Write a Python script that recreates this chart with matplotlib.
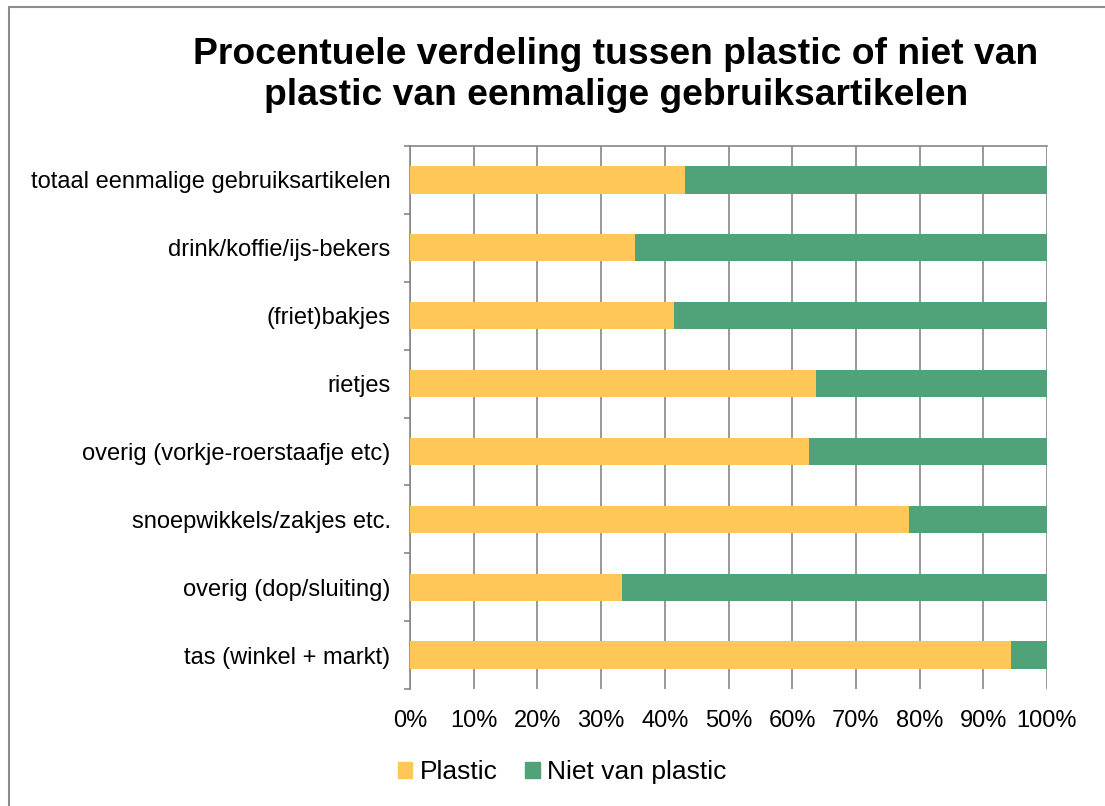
import numpy as np
import matplotlib
matplotlib.use("Agg")
import matplotlib.pyplot as plt
from matplotlib.patches import Patch, Rectangle
from matplotlib.ticker import FuncFormatter

plt.rcParams["font.family"] = ["Liberation Sans", "DejaVu Sans"]

# Data (top to bottom as shown in the chart)
categories = [
    "totaal eenmalige gebruiksartikelen",
    "drink/koffie/ijs-bekers",
    "(friet)bakjes",
    "rietjes",
    "overig (vorkje-roerstaafje etc)",
    "snoepwikkels/zakjes etc.",
    "overig (dop/sluiting)",
    "tas (winkel + markt)",
]
plastic = [43.2, 35.3, 41.4, 63.7, 62.6, 78.3, 33.3, 94.3]
niet_plastic = [56.8, 64.7, 58.6, 36.3, 37.4, 21.7, 66.7, 5.7]

yellow = "#FFC658"
green = "#50A278"
grey = "#868686"

fig = plt.figure(figsize=(11.05, 8.06), dpi=100)
ax = fig.add_axes([410 / 1105, 1 - 689 / 806, 637 / 1105, 543 / 806])

y = np.arange(len(categories))
ax.barh(y, plastic, height=0.4, color=yellow, label="Plastic", zorder=3)
ax.barh(y, niet_plastic, left=plastic, height=0.4, color=green,
        label="Niet van plastic", zorder=3)

ax.set_xlim(0, 100)
ax.set_ylim(len(categories) - 0.5, -0.5)

# x axis: percentage labels, vertical gridlines
ax.set_xticks(np.arange(0, 101, 10))
ax.xaxis.set_major_formatter(FuncFormatter(lambda v, p: f"{int(v)}%"))
ax.tick_params(axis="x", length=0, pad=15, labelsize=17)
ax.grid(axis="x", color=grey, linewidth=1.2, zorder=0)

# y axis: labels at bar centres, tick marks between categories
ax.set_yticks(y)
ax.set_yticklabels(categories)
ax.tick_params(axis="y", which="major", length=0, pad=14, labelsize=17)
ax.set_yticks(np.arange(-0.5, len(categories)), minor=True)
ax.tick_params(axis="y", which="minor", length=4.5, width=1.2, color=grey,
               direction="out")

for side in ["bottom", "right"]:
    ax.spines[side].set_visible(False)
for side in ["left", "top"]:
    ax.spines[side].set_color(grey)
    ax.spines[side].set_linewidth(1.2)

fig.text(616 / 1105, 1 - 75 / 806,
         "Procentuele verdeling tussen plastic of niet van\n"
         "plastic van eenmalige gebruiksartikelen",
         ha="center", va="center", fontsize=26.8, fontweight="bold",
         linespacing=1.2)

handles = [Patch(color=yellow, label="Plastic"),
           Patch(color=green, label="Niet van plastic")]
fig.legend(handles=handles, loc="center", ncol=2, frameon=False,
           bbox_to_anchor=(562 / 1105, 1 - 772 / 806), fontsize=19,
           handlelength=0.55, handleheight=0.55, handletextpad=0.28,
           columnspacing=1.05)

# chart frame (left and top edges visible)
fig.add_artist(Rectangle((8.5 / 1105, -0.5), 2, (806 - 7.5) / 806 + 0.5,
                         transform=fig.transFigure, fill=False,
                         edgecolor="#8C8C8C", linewidth=1.5))

fig.savefig("out.png", dpi=100)
